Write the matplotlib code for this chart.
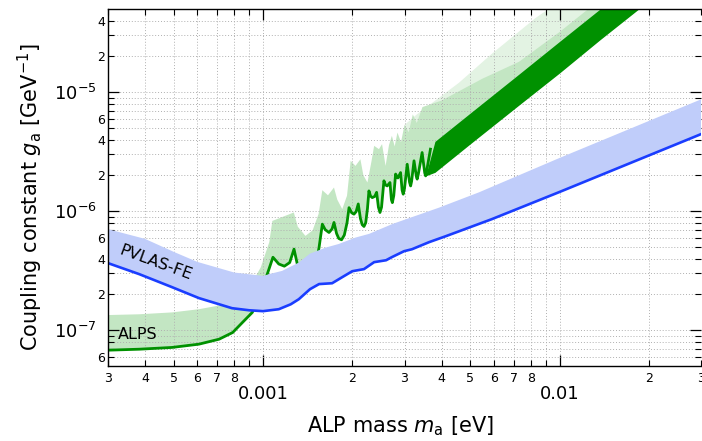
import numpy as np
import matplotlib
matplotlib.use('Agg')
import matplotlib.pyplot as plt
from matplotlib.ticker import FixedLocator, FixedFormatter

plt.rcParams['font.family'] = 'DejaVu Sans'
plt.rcParams['mathtext.fontset'] = 'dejavusans'

# PVLAS-FE band (mass in eV, coupling in 1/GeV)
pvlas_lo_m = [3.0e-4, 3.82e-4, 4.93e-4, 6.08e-4, 7.86e-4, 8.97e-4, 1.0e-3, 1.13e-3, 1.24e-3,
              1.32e-3, 1.44e-3, 1.545e-3, 1.71e-3, 1.85e-3, 2.0e-3, 2.19e-3, 2.37e-3, 2.60e-3,
              2.72e-3, 2.99e-3, 3.18e-3, 3.63e-3, 4.14e-3, 5.91e-3, 1.0e-2, 3.0e-2]
pvlas_lo_g = [3.66e-7, 2.96e-7, 2.30e-7, 1.86e-7, 1.53e-7, 1.47e-7, 1.445e-7, 1.50e-7, 1.65e-7,
              1.82e-7, 2.21e-7, 2.44e-7, 2.48e-7, 2.79e-7, 3.13e-7, 3.26e-7, 3.73e-7, 3.87e-7,
              4.11e-7, 4.61e-7, 4.79e-7, 5.49e-7, 6.17e-7, 8.57e-7, 1.45e-6, 4.44e-6]
pvlas_up_m = [3.0e-4, 4.0e-4, 5.0e-4, 6.0e-4, 8.0e-4, 1.0e-3, 1.05e-3, 1.16e-3, 1.32e-3, 1.44e-3,
              1.63e-3, 1.80e-3, 2.05e-3, 2.28e-3, 2.73e-3, 3.92e-3, 5.35e-3, 1.0e-2, 3.0e-2]
pvlas_up_g = [7.06e-7, 5.85e-7, 4.55e-7, 3.75e-7, 3.05e-7, 2.86e-7, 2.96e-7, 3.15e-7, 3.7e-7, 4.4e-7,
              4.95e-7, 5.3e-7, 6.0e-7, 6.45e-7, 7.8e-7, 1.07e-6, 1.44e-6, 2.8e-6, 8.7e-6]

# ALPS curve, resolved part
alps_m = [3.0e-4, 3.82e-4, 4.93e-4, 6.08e-4, 7.11e-4, 7.9e-4, 8.52e-4, 9.2e-4, 9.8e-4, 1.04e-3,
          1.08e-3, 1.13e-3, 1.18e-3, 1.23e-3, 1.272e-3, 1.32e-3, 1.40e-3, 1.50e-3, 1.545e-3,
          1.585e-3, 1.62e-3, 1.669e-3, 1.71e-3, 1.735e-3, 1.77e-3, 1.80e-3, 1.84e-3, 1.88e-3,
          1.92e-3, 1.95e-3, 1.99e-3, 2.026e-3, 2.06e-3, 2.095e-3, 2.13e-3, 2.16e-3, 2.19e-3,
          2.22e-3, 2.25e-3, 2.276e-3, 2.305e-3, 2.335e-3, 2.38e-3, 2.416e-3, 2.45e-3, 2.48e-3,
          2.51e-3, 2.557e-3, 2.59e-3, 2.623e-3, 2.68e-3, 2.71e-3, 2.73e-3, 2.76e-3, 2.80e-3,
          2.85e-3, 2.91e-3, 2.945e-3, 2.97e-3, 3.0e-3, 3.064e-3, 3.12e-3, 3.146e-3, 3.17e-3,
          3.23e-3, 3.29e-3, 3.31e-3, 3.34e-3, 3.44e-3, 3.51e-3, 3.535e-3, 3.56e-3, 3.67e-3]
alps_g = [6.79e-8, 6.92e-8, 7.16e-8, 7.63e-8, 8.4e-8, 9.56e-8, 1.16e-7, 1.41e-7, 2.0e-7, 3.1e-7,
          4.1e-7, 3.6e-7, 3.45e-7, 3.7e-7, 4.8e-7, 3.15e-7, 2.7e-7, 3.3e-7, 4.95e-7,
          7.78e-7, 7.0e-7, 6.62e-7, 7.1e-7, 8.04e-7, 6.5e-7, 5.9e-7, 5.75e-7, 6.3e-7,
          8.0e-7, 1.07e-6, 9.7e-7, 9.44e-7, 9.9e-7, 1.15e-6, 8.7e-7, 7.7e-7, 7.44e-7,
          8.0e-7, 1.05e-6, 1.48e-6, 1.34e-6, 1.30e-6, 1.33e-6, 1.44e-6, 1.08e-6, 9.75e-7,
          1.08e-6, 1.80e-6, 1.66e-6, 1.63e-6, 1.74e-6, 1.25e-6, 1.18e-6, 1.35e-6, 2.05e-6,
          1.9e-6, 2.11e-6, 1.5e-6, 1.39e-6, 1.55e-6, 2.48e-6, 1.75e-6, 1.63e-6, 1.78e-6,
          2.65e-6, 1.95e-6, 1.86e-6, 2.05e-6, 3.11e-6, 2.1e-6, 1.98e-6, 2.15e-6, 3.32e-6]

# ALPS, dense oscillation part (envelope)
band_m = [3.535e-3, 3.8e-3, 5.0e-3, 7.3e-3, 1.0e-2, 1.37e-2, 1.85e-2, 3.0e-2]
band_lo = [1.98e-6, 2.12e-6, 3.68e-6, 7.8e-6, 1.45e-5, 2.76e-5, 5.0e-5, 1.32e-4]
band_hi = [1.98e-6, 3.86e-6, 6.68e-6, 1.42e-5, 2.67e-5, 5.0e-5, 9.1e-5, 2.4e-4]

# ALPS uncertainty region, upper edge
shade_m = [3.0e-4, 3.82e-4, 4.93e-4, 6.08e-4, 7.48e-4, 8.74e-4, 9.33e-4, 9.83e-4, 1.05e-3, 1.075e-3,
           1.27e-3, 1.31e-3, 1.39e-3, 1.47e-3, 1.54e-3, 1.585e-3, 1.656e-3, 1.735e-3, 1.78e-3,
           1.85e-3, 1.92e-3, 1.975e-3, 2.05e-3, 2.13e-3, 2.18e-3, 2.25e-3, 2.32e-3, 2.37e-3,
           2.46e-3, 2.52e-3, 2.59e-3, 2.66e-3, 2.72e-3, 2.78e-3, 2.84e-3, 2.92e-3, 3.0e-3, 3.1e-3,
           3.2e-3, 3.3e-3, 3.45e-3, 4.0e-3, 5.5e-3, 7.3e-3, 1.0e-2, 1.37e-2, 3.0e-2]
shade_g = [1.34e-7, 1.36e-7, 1.41e-7, 1.5e-7, 1.65e-7, 1.94e-7, 2.68e-7, 3.38e-7, 5.5e-7, 8.28e-7,
           9.75e-7, 7.4e-7, 6.2e-7, 6.9e-7, 9.5e-7, 1.5e-6, 1.36e-6, 1.58e-6, 1.25e-6,
           1.04e-6, 1.35e-6, 2.65e-6, 2.4e-6, 2.73e-6, 2.0e-6, 1.74e-6, 2.6e-6, 3.54e-6,
           3.32e-6, 3.66e-6, 2.4e-6, 3.6e-6, 4.3e-6, 3.5e-6, 4.58e-6, 3.8e-6, 5.3e-6, 4.6e-6,
           6.5e-6, 5.5e-6, 7.5e-6, 8.5e-6, 1.3e-5, 1.8e-5, 3.2e-5, 6.0e-5, 3.0e-4]
fade_m = [3.0e-3, 3.3e-3, 4.58e-3, 5.91e-3, 8.3e-3, 9.5e-3, 3.0e-2]
fade_g = [5.3e-6, 6.5e-6, 1.2e-5, 2.1e-5, 4.2e-5, 5.3e-5, 5.0e-4]

x_major = [1e-3, 1e-2]
x_major_labels = ['0.001', '0.01']
x_minor = [3e-4, 4e-4, 5e-4, 6e-4, 7e-4, 8e-4, 9e-4,
           2e-3, 3e-3, 4e-3, 5e-3, 6e-3, 7e-3, 8e-3, 9e-3, 2e-2, 3e-2]
x_minor_labels = ['3', '4', '5', '6', '7', '8', '',
                  '2', '3', '4', '5', '6', '7', '8', '', '2', '3']
y_major = [1e-7, 1e-6, 1e-5]
y_major_labels = [r'$10^{-7}$', r'$10^{-6}$', r'$10^{-5}$']
y_minor = [6e-8, 7e-8, 8e-8, 9e-8,
           2e-7, 3e-7, 4e-7, 5e-7, 6e-7, 7e-7, 8e-7, 9e-7,
           2e-6, 3e-6, 4e-6, 5e-6, 6e-6, 7e-6, 8e-6, 9e-6,
           2e-5, 3e-5, 4e-5]
y_minor_labels = ['6', '', '', '',
                  '2', '', '4', '', '6', '', '', '',
                  '2', '', '4', '', '6', '', '', '',
                  '2', '', '4']

dark_green = '#009100'
light_green = '#c3e6c3'
pale_green = '#e3f3e3'
light_blue = '#c0cdfa'
blue = '#1a3dff'

fig = plt.figure(figsize=(7.02, 4.41), dpi=100)
ax = fig.add_axes([108/702, 75/441, 593/702, 357/441])
ax.set_xscale('log')
ax.set_yscale('log')

# lower edge of the ALPS shading: the curve, then the dense band
lm = np.array(alps_m)
lg = np.array(alps_g)
keep = lm <= band_m[0]
low_m = np.concatenate([lm[keep], band_m[1:]])
low_g = np.concatenate([lg[keep], band_lo[1:]])

sel = low_m >= fade_m[0]
ax.fill(np.concatenate([fade_m, low_m[sel][::-1]]),
        np.concatenate([fade_g, low_g[sel][::-1]]),
        color=pale_green, lw=0, zorder=0.2)
ax.fill(np.concatenate([shade_m, low_m[::-1]]),
        np.concatenate([shade_g, low_g[::-1]]),
        color=light_green, lw=0, zorder=0.3)

ax.fill_between(band_m, band_lo, band_hi, color=dark_green, lw=0, zorder=1)
ax.plot(alps_m, alps_g, color=dark_green, lw=2.0, zorder=1.1)

ax.fill(np.concatenate([pvlas_up_m, pvlas_lo_m[::-1]]),
        np.concatenate([pvlas_up_g, pvlas_lo_g[::-1]]),
        color=light_blue, lw=0, zorder=1.2)
ax.plot(pvlas_lo_m, pvlas_lo_g, color=blue, lw=1.9, zorder=1.3)

ax.text(0.081, 0.2885, 'PVLAS-FE', transform=ax.transAxes, rotation=-20,
        ha='center', va='center', rotation_mode='anchor', fontsize=11.5, zorder=5)
ax.text(0.0497, 0.0896, 'ALPS', transform=ax.transAxes,
        ha='center', va='center', fontsize=11.5, zorder=5)

ax.set_xlim(3e-4, 3e-2)
ax.set_ylim(5e-8, 5e-5)

ax.xaxis.set_major_locator(FixedLocator(x_major))
ax.xaxis.set_major_formatter(FixedFormatter(x_major_labels))
ax.xaxis.set_minor_locator(FixedLocator(x_minor))
ax.xaxis.set_minor_formatter(FixedFormatter(x_minor_labels))
ax.yaxis.set_major_locator(FixedLocator(y_major))
ax.yaxis.set_major_formatter(FixedFormatter(y_major_labels))
ax.yaxis.set_minor_locator(FixedLocator(y_minor))
ax.yaxis.set_minor_formatter(FixedFormatter(y_minor_labels))

ax.tick_params(which='both', direction='in', top=True, right=True, color='black')
ax.tick_params(which='major', length=8, width=0.9, labelsize=13)
ax.tick_params(which='minor', length=4.5, width=0.8, labelsize=9)
ax.tick_params(axis='x', which='major', pad=14)
ax.tick_params(axis='x', which='minor', pad=4)
ax.tick_params(axis='y', which='major', pad=8)
ax.tick_params(axis='y', which='minor', pad=2)

ax.set_axisbelow(True)
ax.grid(which='both', linestyle=(0, (1, 2)), color='#b0b0b0', linewidth=0.7)
for s in ax.spines.values():
    s.set_linewidth(1.0)
# the frame runs off the right edge of the image in the original
ax.spines['right'].set_visible(False)

fig.text(0.571, 0.034, r'ALP mass $m_\mathrm{a}$ [eV]', ha='center', va='center', fontsize=15)
fig.text(0.044, 0.553, r'Coupling constant $g_\mathrm{a}$ [GeV$^{-1}$]', rotation=90,
         ha='center', va='center', fontsize=15)

fig.savefig('out.png', dpi=100)
